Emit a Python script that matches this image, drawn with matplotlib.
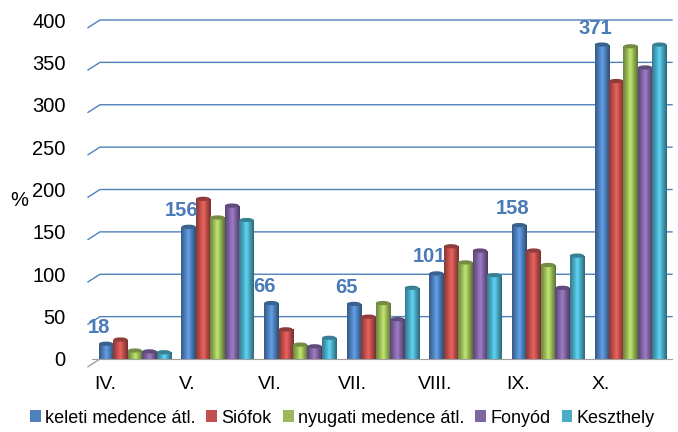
import numpy as np
import matplotlib.pyplot as plt
from matplotlib.colors import LinearSegmentedColormap, to_rgb
from matplotlib.patches import Ellipse
import matplotlib.transforms as mtransforms

plt.rcParams['font.family'] = ['Liberation Sans', 'DejaVu Sans']

months = ["IV.", "V.", "VI.", "VII.", "VIII.", "IX.", "X."]
series = ["keleti medence átl.", "Siófok", "nyugati medence átl.", "Fonyód", "Keszthely"]
keleti = [18, 156, 66, 65, 101, 158, 371]
siofok = [23, 189, 35, 50, 133, 128, 328]
nyugati = [10, 167, 17, 66, 114, 111, 369]
fonyod = [9, 181, 15, 47, 128, 84, 344]
keszthely = [8, 164, 25, 84, 99, 122, 371]
values = [keleti, siofok, nyugati, fonyod, keszthely]
colors = ["#4f81bd", "#c0504d", "#9bbb59", "#8064a2", "#4bacc6"]

fig = plt.figure(figsize=(6.78, 4.32), dpi=100)
ax = fig.add_axes([92 / 678, 1 - 359 / 432, 580 / 678, 339 / 432])

x = np.arange(len(months))
width = 0.175
grad = np.linspace(0, 1, 64).reshape(1, -1)

for i, (name, vals, col) in enumerate(zip(series, values, colors)):
    pos = x + (i - 2) * width
    bars = ax.bar(pos, vals, width, color=col, label=name, zorder=3)
    base = np.array(to_rgb(col))
    cmap = LinearSegmentedColormap.from_list(
        "cyl", [base * 0.7, base * 0.95, np.minimum(base * 1.25, 1), base * 0.9, base * 0.6])
    for b in bars:
        x0, h = b.get_x(), b.get_height()
        im = ax.imshow(grad, extent=[x0, x0 + width, 0, h], aspect="auto",
                       cmap=cmap, zorder=3.5, interpolation="bicubic")
        im.set_clip_path(b)
        cap = Ellipse((x0 + width / 2, h), width * 0.98, 5, facecolor=base * 0.75,
                      edgecolor="none", zorder=4)
        ax.add_patch(cap)

for xi, v in zip(x - 2 * width, keleti):
    ax.annotate(str(v), (xi, v), xytext=(-5, 5), textcoords="offset points",
                ha="center", va="bottom", fontsize=14.5, fontweight="bold",
                color="#4a7ab8", zorder=6)

ax.set_xlim(-0.52, 6.5)
ax.set_ylim(0, 400)
ax.set_yticks(np.arange(0, 401, 50))
ax.set_xticks(x)
ax.set_xticklabels(months, fontsize=14)
ax.tick_params(axis="y", length=0, pad=19, labelsize=14.5)
ax.tick_params(axis="x", length=0, pad=12)
offset = mtransforms.ScaledTranslation(-30 / 100, 0, fig.dpi_scale_trans)
for lbl in ax.get_xticklabels():
    lbl.set_transform(lbl.get_transform() + offset)

# back-wall gridlines with a short slanted side-wall piece
x_l = -0.52 - 4 / 82.7
dx = 12 / 82.7
for v in np.arange(50, 401, 50):
    ax.plot([x_l, x_l + dx, 6.5], [v - 9, v, v], color="#4f81bd",
            linewidth=1.0, zorder=0, clip_on=False)
ax.plot([x_l, x_l + dx], [-9, 0], color="#a0a0a0", linewidth=1.0, clip_on=False)
for s in ["top", "right", "left"]:
    ax.spines[s].set_visible(False)
ax.spines["bottom"].set_color("#a0a0a0")

fig.text(10 / 678, 1 - 201 / 432, "%", fontsize=14.5, va="center", ha="left")

fig.legend(loc="lower center", ncol=5, frameon=False, fontsize=13,
           bbox_to_anchor=(0.505, -0.025), handlelength=0.6, handleheight=0.6,
           handletextpad=0.25, columnspacing=0.6)

fig.savefig("out.png", dpi=100)
